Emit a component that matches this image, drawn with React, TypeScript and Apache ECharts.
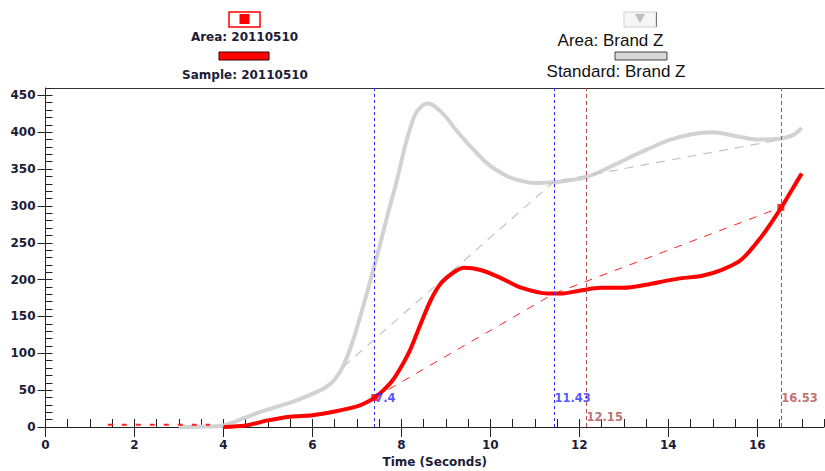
import React, { useEffect, useRef } from "react";
import * as echarts from "echarts";

// Area curve for Brand Z (gray) [time, value]
const brandZArea: [number, number][] = [
  [3.0, 0], [3.5, 0.5], [4.0, 2], [4.5, 13], [4.9, 22], [5.5, 33], [6.0, 45], [6.3, 54],
  [6.5, 64], [6.7, 84], [6.9, 115], [7.1, 155], [7.3, 198], [7.5, 243], [7.7, 290], [7.9, 335],
  [8.1, 385], [8.3, 423], [8.45, 435], [8.59, 439], [8.75, 435], [9.0, 421], [9.2, 405],
  [9.49, 385], [9.94, 357], [10.39, 340], [10.7, 334], [10.98, 331], [11.43, 332], [11.8, 335],
  [12.1, 338], [12.49, 347], [13.0, 362], [13.5, 376], [14.0, 389], [14.5, 397], [15.0, 400],
  [15.5, 395], [16.0, 390], [16.5, 391], [16.8, 396], [17.0, 406],
];

// Sample curve 20110510 (red)
const sampleCurve: [number, number][] = [
  [4.0, 0], [4.5, 2], [5.0, 9], [5.5, 14], [6.0, 16], [6.5, 21], [7.0, 28], [7.2, 33],
  [7.4, 40], [7.6, 50], [7.8, 63], [8.0, 82], [8.2, 105], [8.4, 135], [8.66, 172], [8.89, 195],
  [9.18, 210], [9.41, 216], [9.78, 213], [10.24, 202], [10.69, 189], [11.29, 181], [11.59, 181],
  [12.0, 185], [12.49, 189], [13.0, 189], [13.5, 193], [14.0, 199], [14.3, 202], [14.74, 205],
  [15.19, 213], [15.64, 227], [16.09, 258], [16.5, 294], [16.77, 321], [17.0, 344],
];

// Standard (dashed) tangent lines
const brandZStandard: [number, number][] = [[6.7, 82], [11.43, 333], [16.53, 390]];
const sampleStandard: [number, number][] = [[7.4, 40], [11.43, 181], [16.53, 298]];
const sampleBaseline: [number, number][] = [[1.4, 3], [3.7, 3]];

// Sample markers
const sampleMarkers: [number, number][] = [[7.4, 40], [16.53, 298]];

// Vertical marker times
const blueMarkers = [7.4, 11.43];
const brownMarkers = [12.15, 16.53];
const markerLabelY = [39, 39, 13, 39];

const xTicks = [0, 2, 4, 6, 8, 10, 12, 14, 16];
const yTicks = [0, 50, 100, 150, 200, 250, 300, 350, 400, 450];

const FONT = "'Liberation Sans', Arial, sans-serif";
const BFONT = "'DejaVu Sans', Verdana, sans-serif";
const BLUE = "#2a2aff";
const BROWN = "#b04c4c";

export default function App() {
  const ref = useRef<HTMLDivElement>(null);
  useEffect(() => {
    if (!ref.current) return;
    const chart = echarts.init(ref.current, null, { renderer: "svg" });
    const labelColor = "#1c1c38";
    const xBase = { type: "value", min: 0, max: 17.5, gridIndex: 0 };
    const yBase = { type: "value", min: 0, max: 460, gridIndex: 0 };
    const allMarkers = [...blueMarkers, ...brownMarkers];
    chart.setOption({
      animation: false,
      backgroundColor: "#ffffff",
      grid: { left: 45.5, right: 1, top: 88, bottom: 44, containLabel: false, outerBoundsMode: "none" },
      xAxis: [
        {
          ...xBase, interval: 2, position: "bottom",
          axisLine: { show: true, lineStyle: { color: "#222", width: 1 } },
          axisTick: { show: true, inside: false, length: 10, lineStyle: { color: "#222" } },
          axisLabel: {
            color: labelColor, fontWeight: "bold", fontSize: 12, fontFamily: BFONT, margin: 12,
            showMaxLabel: false,
            formatter: (v: number) => (xTicks.includes(v) ? String(v) : ""),
          },
          splitLine: { show: false },
          name: "Time (Seconds)", nameLocation: "middle", nameGap: 29,
          nameTextStyle: { color: labelColor, fontWeight: "bold", fontSize: 12, fontFamily: BFONT },
        },
        {
          ...xBase, interval: 0.5, position: "bottom",
          axisLine: { show: false },
          axisTick: { show: true, inside: true, length: 8, lineStyle: { color: "#222" } },
          axisLabel: { show: false }, splitLine: { show: false },
        },
        {
          ...xBase, interval: 2, position: "top",
          axisLine: { show: true, lineStyle: { color: "#333", width: 1 } },
          axisTick: { show: false }, axisLabel: { show: false }, splitLine: { show: false },
        },
      ],
      yAxis: [
        {
          ...yBase, interval: 50, position: "left",
          axisLine: { show: true, lineStyle: { color: "#222", width: 1 } },
          axisTick: { show: true, inside: false, length: 8, lineStyle: { color: "#222" } },
          axisLabel: {
            color: labelColor, fontWeight: "bold", fontSize: 12, fontFamily: BFONT, margin: 10,
            showMaxLabel: false,
            formatter: (v: number) => (yTicks.includes(v) ? String(v) : ""),
          },
          splitLine: { show: false },
        },
        {
          ...yBase, interval: 10, position: "left",
          axisLine: { show: false },
          axisTick: { show: true, inside: true, length: 7, lineStyle: { color: "#222" } },
          axisLabel: { show: false }, splitLine: { show: false },
        },
      ],
      series: [
        {
          type: "line", name: "Area: Brand Z", data: brandZArea, smooth: 0.3, showSymbol: false,
          lineStyle: { color: "#d2d2d2", width: 4 }, z: 2,
        },
        {
          type: "line", name: "Standard: Brand Z", data: brandZStandard, showSymbol: false,
          lineStyle: { color: "#c4c4c4", width: 1.2, type: [9, 7] }, z: 3,
        },
        {
          type: "line", name: "Sample: 20110510", data: sampleCurve, smooth: 0.3, showSymbol: false,
          lineStyle: { color: "#ff0000", width: 4 }, z: 4,
        },
        {
          type: "line", name: "Sample standard", data: sampleStandard, showSymbol: false,
          lineStyle: { color: "#ff2020", width: 1, type: [8, 8] }, z: 5,
        },
        {
          type: "line", name: "Sample baseline", data: sampleBaseline, showSymbol: false,
          lineStyle: { color: "#ff2020", width: 2, type: [5, 9] }, z: 5,
        },
        {
          type: "scatter", name: "markers", data: sampleMarkers, symbol: "rect", symbolSize: 7,
          itemStyle: { color: "#ff0000" }, z: 6,
          markLine: {
            silent: true, symbol: "none", label: { show: false },
            data: [
              ...blueMarkers.map((v) => ({ xAxis: v, lineStyle: { color: BLUE, type: [3, 3], width: 1 } })),
              ...brownMarkers.map((v) => ({ xAxis: v, lineStyle: { color: BROWN, type: [4, 3], width: 1 } })),
            ],
          },
        },
        {
          type: "scatter", name: "marker labels", symbolSize: 1,
          itemStyle: { color: "rgba(0,0,0,0)" }, z: 7,
          data: allMarkers.map((v, i) => ({
            value: [v, markerLabelY[i]],
            label: {
              show: true, position: "right", distance: 0, formatter: String(v),
              color: i < blueMarkers.length ? BLUE : BROWN,
              fontWeight: "bold", fontSize: 11.5, fontFamily: BFONT,
            },
          })),
        },
      ],
      graphic: [
        // left legend: Area 20110510
        { type: "rect", shape: { x: 229, y: 12, width: 31, height: 15 }, style: { fill: "#fff", stroke: "#ff0000", lineWidth: 1.5 } },
        { type: "rect", shape: { x: 239.5, y: 14, width: 10, height: 10 }, style: { fill: "#ff0000" } },
        { type: "text", x: 244.5, y: 37, style: { text: "Area: 20110510", fontFamily: BFONT, fontWeight: "bold", fontSize: 12, fill: "#1c1c38", align: "center", verticalAlign: "middle" } },
        { type: "rect", shape: { x: 219, y: 52, width: 50, height: 8 }, style: { fill: "#ff0000", stroke: "#3a0000", lineWidth: 1 } },
        { type: "text", x: 245, y: 75, style: { text: "Sample: 20110510", fontFamily: BFONT, fontWeight: "bold", fontSize: 12, fill: "#1c1c38", align: "center", verticalAlign: "middle" } },
        // right legend: Brand Z
        { type: "rect", shape: { x: 624, y: 12, width: 32, height: 15 }, style: { fill: "#f6f6f6", stroke: "#cfcfcf", lineWidth: 1 } },
        { type: "line", shape: { x1: 656.5, y1: 12, x2: 656.5, y2: 27 }, style: { stroke: "#777", lineWidth: 1 } },
        { type: "polygon", shape: { points: [[635, 14], [645, 14], [640, 23]] }, style: { fill: "#bdbdbd" } },
        { type: "text", x: 610.5, y: 40, style: { text: "Area: Brand Z", fontFamily: FONT, fontSize: 17, fill: "#111", align: "center", verticalAlign: "middle" } },
        { type: "rect", shape: { x: 615, y: 52, width: 52, height: 8 }, style: { fill: "#d6d6d6", stroke: "#444", lineWidth: 1 } },
        { type: "text", x: 616, y: 71, style: { text: "Standard: Brand Z", fontFamily: FONT, fontSize: 17, fill: "#111", align: "center", verticalAlign: "middle" } },
      ],
    });
    return () => chart.dispose();
  }, []);
  return <div ref={ref} style={{ width: 825, height: 471, position: "absolute", left: 0, top: 0 }} />;
}
